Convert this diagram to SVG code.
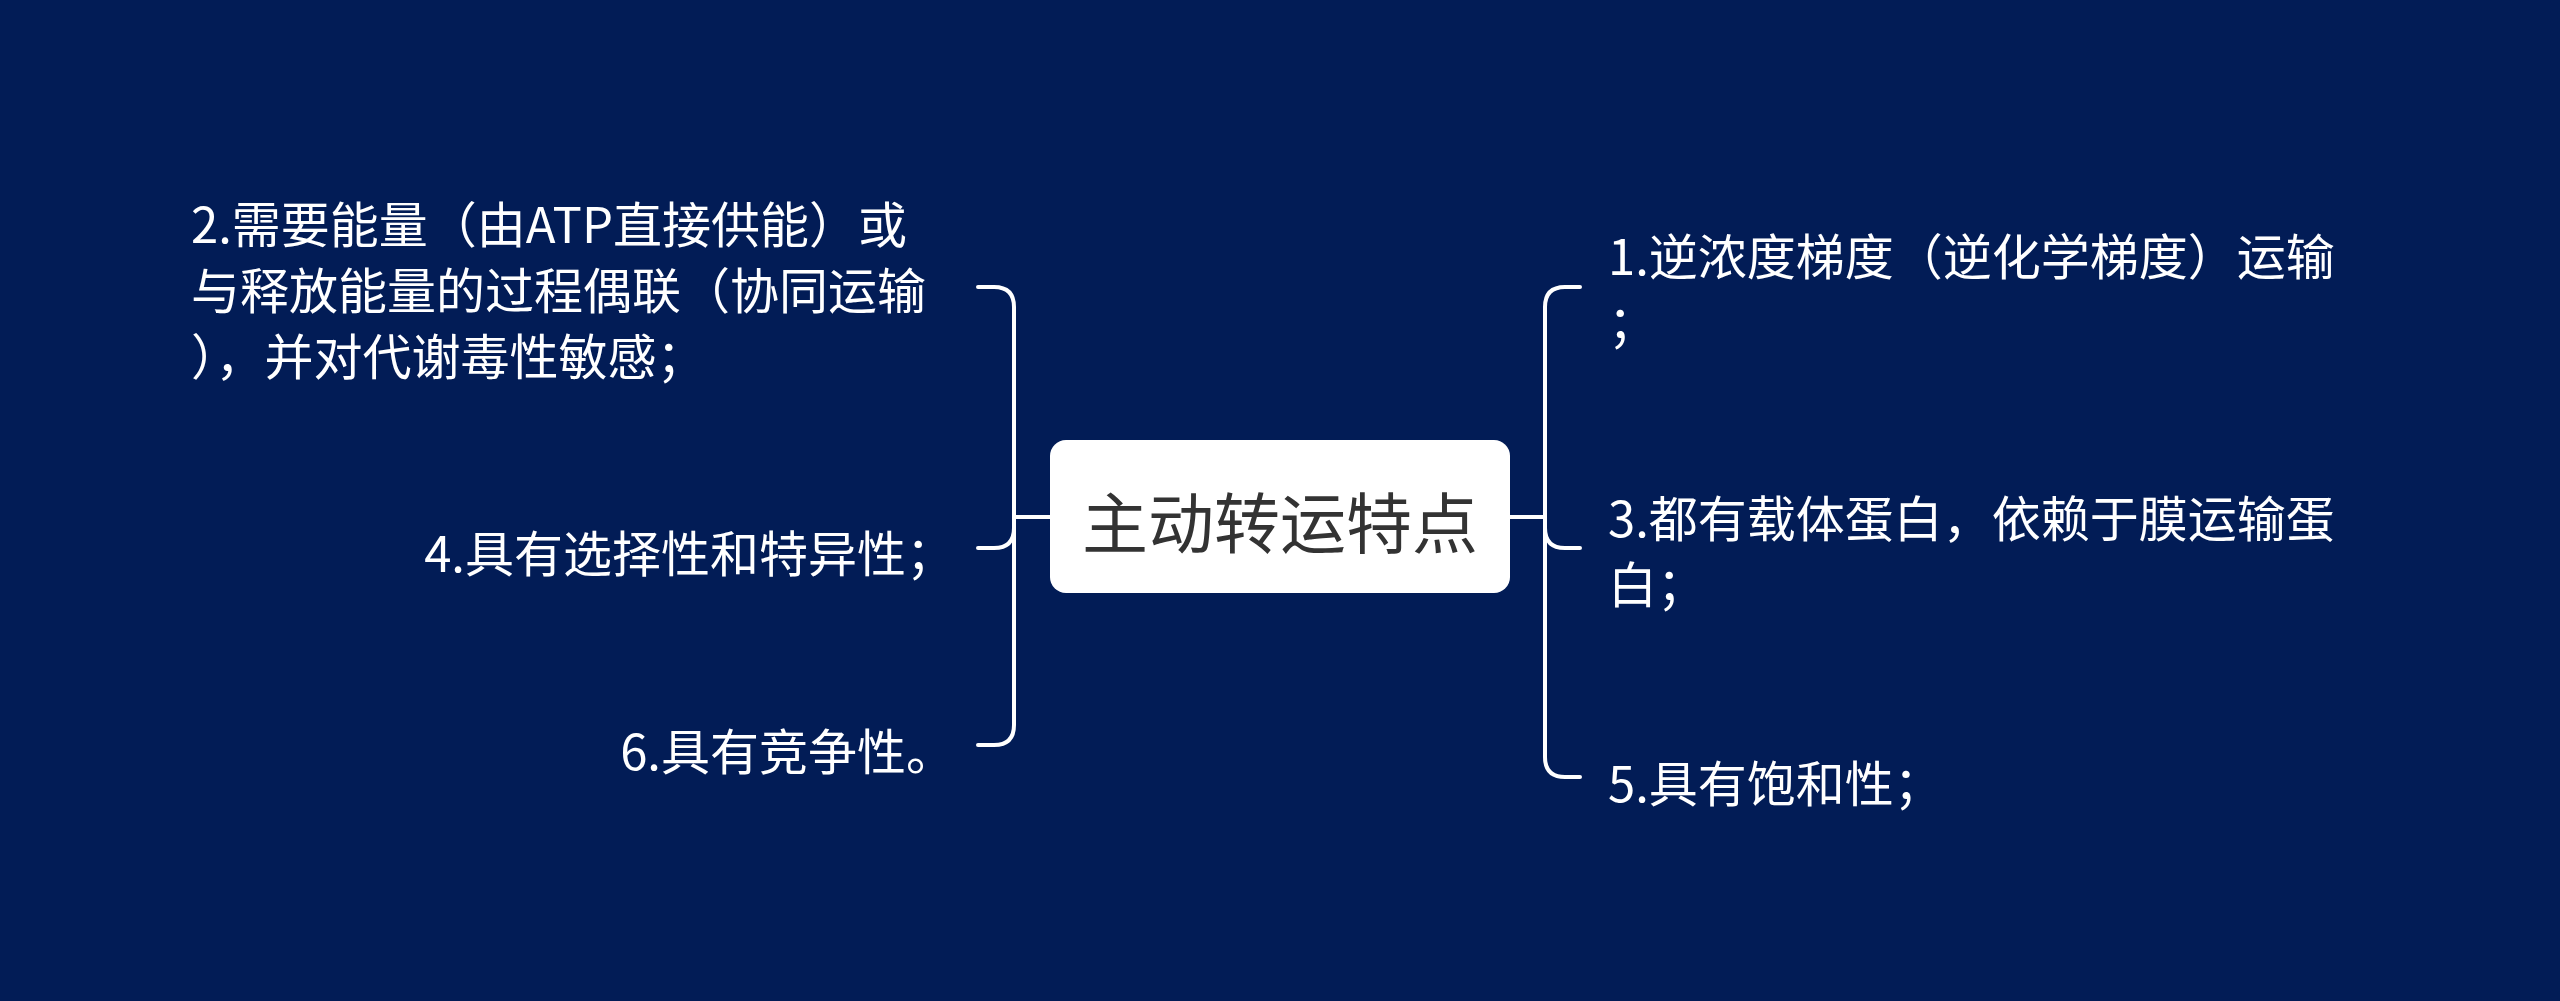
<svg xmlns="http://www.w3.org/2000/svg" width="2560" height="1001" viewBox="0 0 2560 1001">
<style>
.bg{fill:#021c56}
.conn{fill:none;stroke:#ffffff;stroke-width:4;stroke-linecap:round}
.leaf{font-family:"Noto Sans CJK SC","Noto Sans",sans-serif;font-size:49px;fill:#ffffff}
.root-box{fill:#ffffff}
.root-text{font-family:"Noto Sans CJK SC","Noto Sans",sans-serif;font-size:66px;fill:#333333}
</style>
<rect class="bg" x="0" y="0" width="2560" height="1001"/>
<g id="connectors">
<path class="conn" d="M1050,517 H1014 V307 Q1014,287 994,287 H978"/>
<path class="conn" d="M1050,517 H1014 V528 Q1014,548 994,548 H978"/>
<path class="conn" d="M1050,517 H1014 V725 Q1014,745 994,745 H978"/>
<path class="conn" d="M1510,517 H1545 V307 Q1545,287 1565,287 H1580"/>
<path class="conn" d="M1510,517 H1545 V528 Q1545,548 1565,548 H1580"/>
<path class="conn" d="M1510,517 H1545 V757 Q1545,777 1565,777 H1580"/>
</g>
<g id="root">
<rect class="root-box" x="1050" y="440" width="460" height="153" rx="16" ry="16"/>
<text class="root-text" x="1280" y="519" text-anchor="middle" dominant-baseline="central">主动转运特点</text>
</g>
<g id="node2">
<text class="leaf" dominant-baseline="central"><tspan x="191" y="221">2.需要能量（由ATP直接供能）或</tspan><tspan x="191" y="287">与释放能量的过程偶联（协同运输</tspan><tspan x="191" y="353">），并对代谢毒性敏感；</tspan></text>
</g>
<g id="node4">
<text class="leaf" x="955" y="550" text-anchor="end" dominant-baseline="central">4.具有选择性和特异性；</text>
</g>
<g id="node6">
<text class="leaf" x="955" y="748" text-anchor="end" dominant-baseline="central">6.具有竞争性。</text>
</g>
<g id="node1">
<text class="leaf" dominant-baseline="central"><tspan x="1608" y="253">1.逆浓度梯度（逆化学梯度）运输</tspan><tspan x="1608" y="319">；</tspan></text>
</g>
<g id="node3">
<text class="leaf" dominant-baseline="central"><tspan x="1608" y="515">3.都有载体蛋白，依赖于膜运输蛋</tspan><tspan x="1608" y="581">白；</tspan></text>
</g>
<g id="node5">
<text class="leaf" x="1608" y="780" dominant-baseline="central">5.具有饱和性；</text>
</g>
</svg>
